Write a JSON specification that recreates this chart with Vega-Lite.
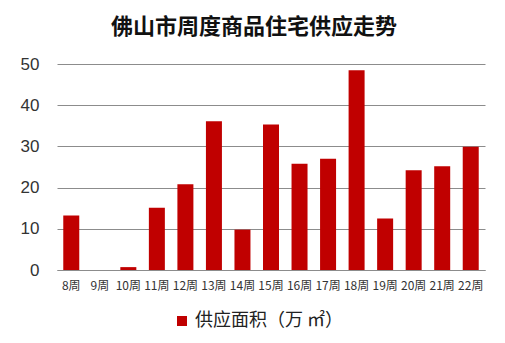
{
  "$schema": "https://vega.github.io/schema/vega-lite/v6.json",
  "width": 428,
  "height": 206,
  "autosize": {"type": "none"},
  "padding": {"left": 57, "top": 64, "right": 20, "bottom": 73},
  "background": "white",
  "title": {
    "text": "佛山市周度商品住宅供应走势",
    "font": "Noto Sans CJK SC",
    "fontSize": 22,
    "fontWeight": "bold",
    "color": "#111111",
    "anchor": "middle",
    "offset": 16,
    "dx": -17
  },
  "data": {
    "values": [
      {"week": "8周", "value": 13.2, "series": "供应面积（万 ㎡）"},
      {"week": "9周", "value": 0, "series": "供应面积（万 ㎡）"},
      {"week": "10周", "value": 0.7, "series": "供应面积（万 ㎡）"},
      {"week": "11周", "value": 15.1, "series": "供应面积（万 ㎡）"},
      {"week": "12周", "value": 20.8, "series": "供应面积（万 ㎡）"},
      {"week": "13周", "value": 36.1, "series": "供应面积（万 ㎡）"},
      {"week": "14周", "value": 9.8, "series": "供应面积（万 ㎡）"},
      {"week": "15周", "value": 35.3, "series": "供应面积（万 ㎡）"},
      {"week": "16周", "value": 25.8, "series": "供应面积（万 ㎡）"},
      {"week": "17周", "value": 27.0, "series": "供应面积（万 ㎡）"},
      {"week": "18周", "value": 48.5, "series": "供应面积（万 ㎡）"},
      {"week": "19周", "value": 12.5, "series": "供应面积（万 ㎡）"},
      {"week": "20周", "value": 24.2, "series": "供应面积（万 ㎡）"},
      {"week": "21周", "value": 25.2, "series": "供应面积（万 ㎡）"},
      {"week": "22周", "value": 29.9, "series": "供应面积（万 ㎡）"}
    ]
  },
  "mark": {"type": "bar", "width": 16},
  "encoding": {
    "x": {
      "field": "week",
      "type": "nominal",
      "sort": null,
      "title": null,
      "axis": {
        "labelAngle": 0,
        "labelFont": "Noto Sans CJK SC",
        "labelFontSize": 12,
        "labelColor": "#333333",
        "labelPadding": 10,
        "ticks": false,
        "domainColor": "#8c8c8c",
        "domainWidth": 1
      }
    },
    "y": {
      "field": "value",
      "type": "quantitative",
      "title": null,
      "scale": {"domain": [0, 50]},
      "axis": {
        "values": [0, 10, 20, 30, 40, 50],
        "labelFont": "Liberation Sans",
        "labelFontSize": 17,
        "labelColor": "#333333",
        "labelPadding": 18,
        "ticks": false,
        "domain": false,
        "gridColor": "#8c8c8c",
        "gridWidth": 1
      }
    },
    "color": {
      "field": "series",
      "type": "nominal",
      "scale": {"range": ["#C00000"]},
      "legend": {
        "title": null,
        "orient": "none",
        "legendX": 116,
        "legendY": 248,
        "symbolType": "square",
        "symbolSize": 100,
        "labelFont": "Noto Sans CJK SC",
        "labelFontSize": 18,
        "labelColor": "#222222",
        "labelOffset": 4
      }
    }
  },
  "config": {"view": {"stroke": null}}
}
